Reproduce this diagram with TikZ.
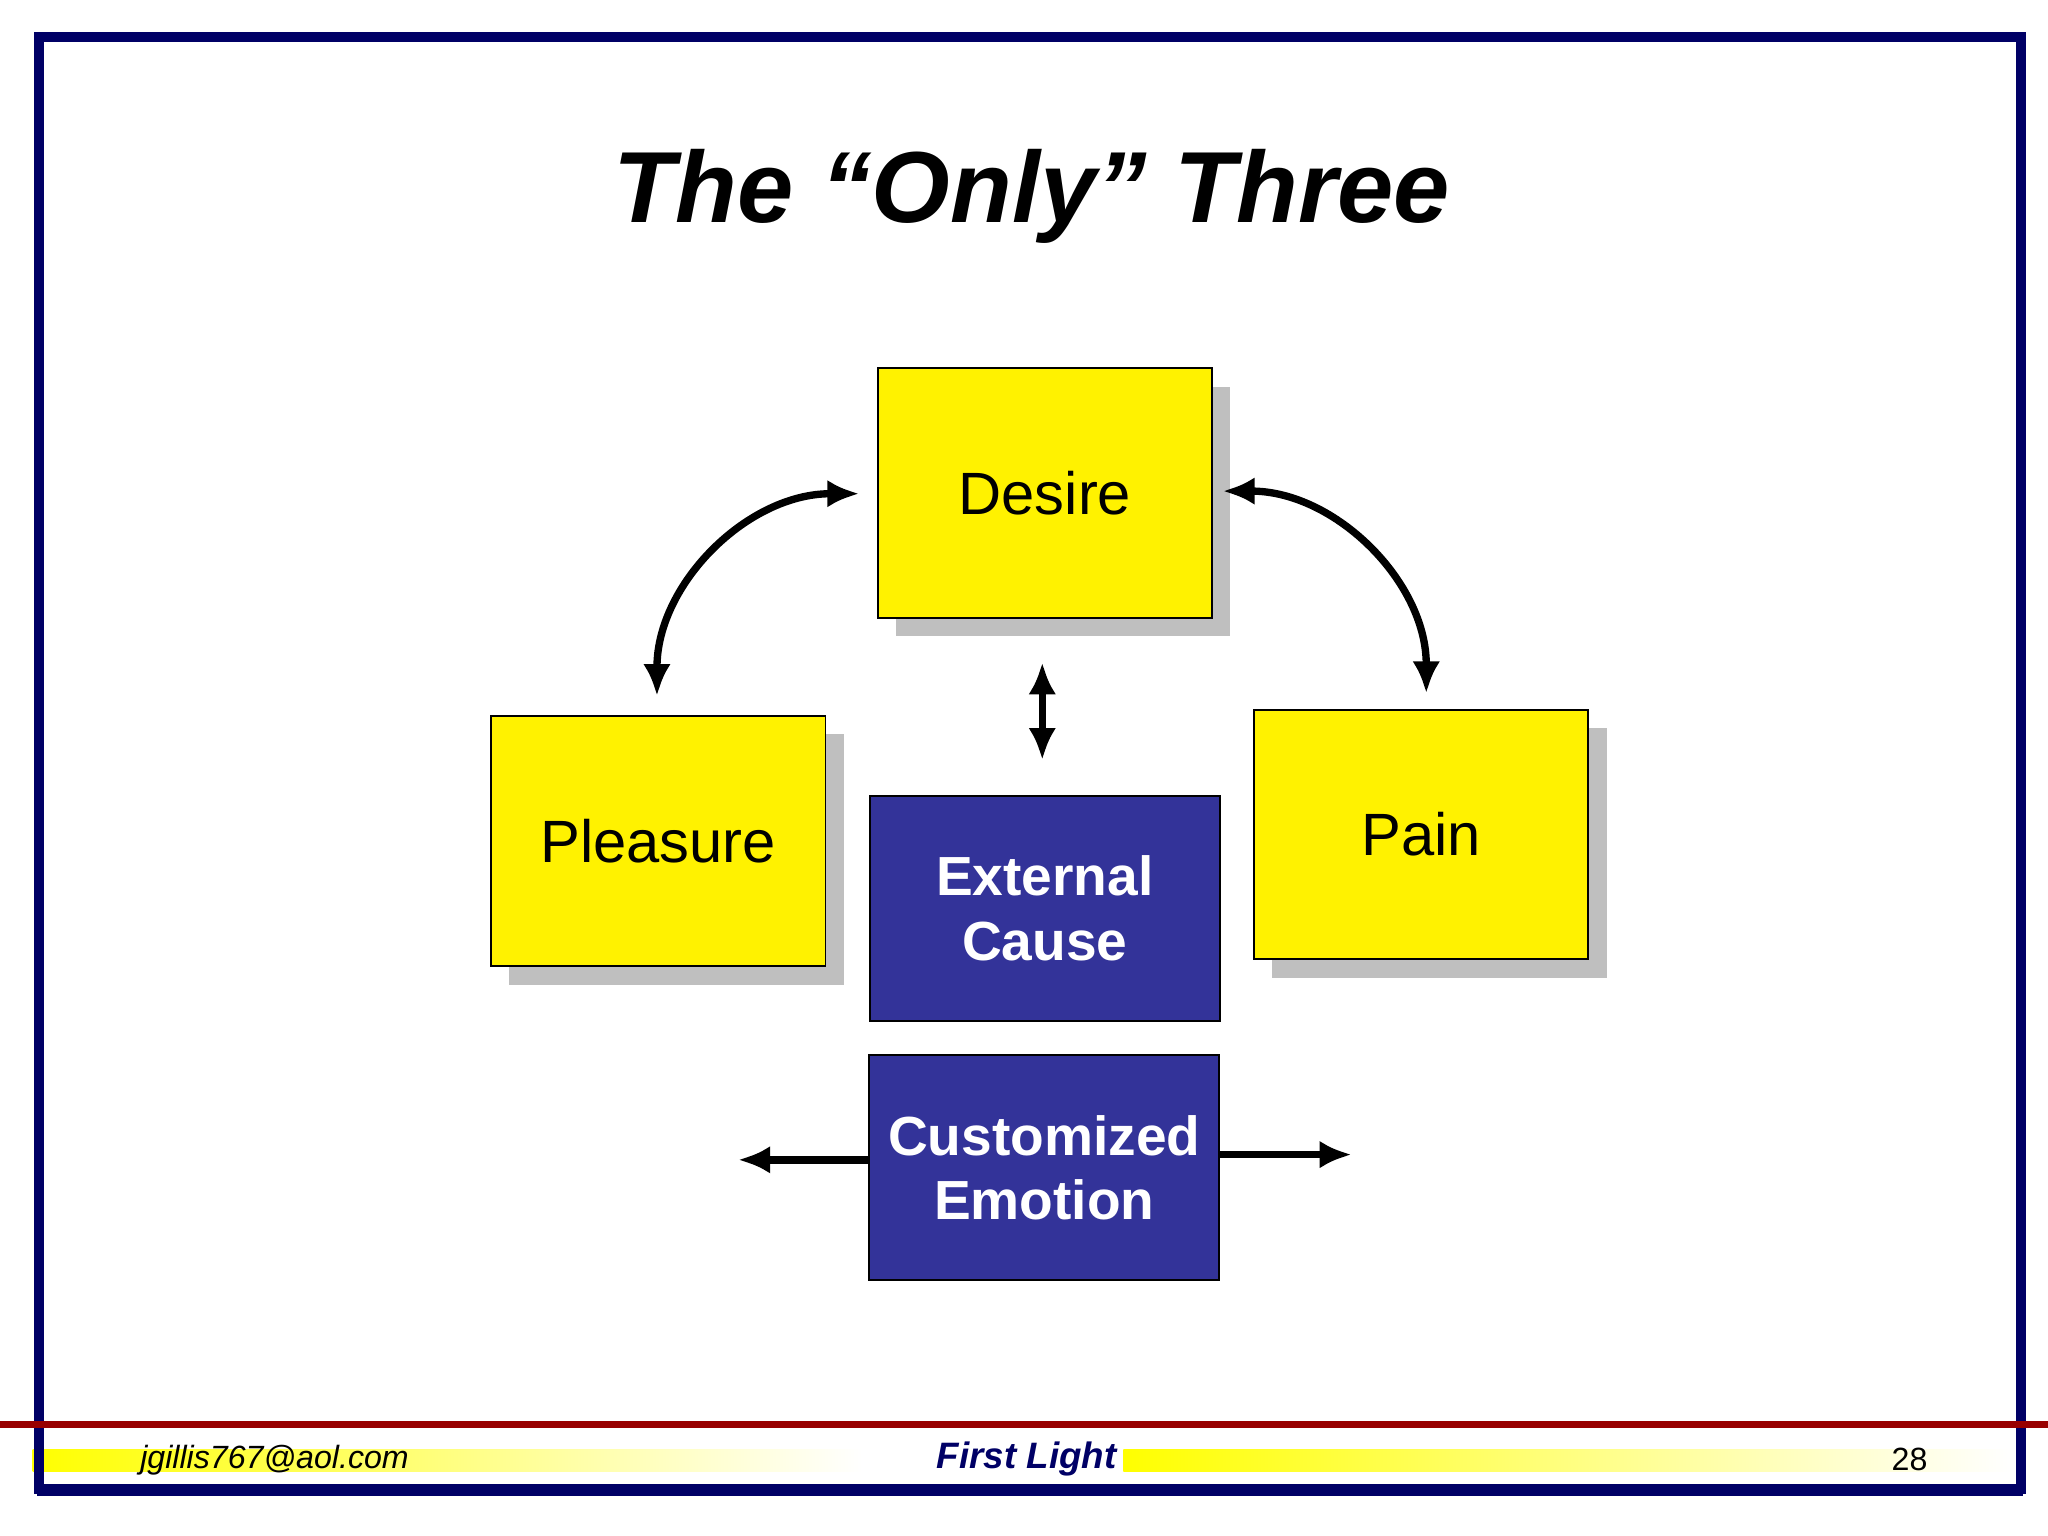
\documentclass[tikz,border=0pt]{standalone}
\usepackage{fontspec}
\setmainfont{Liberation Sans}
\usetikzlibrary{arrows.meta}
\definecolor{navy}{HTML}{000066}
\definecolor{boxblue}{HTML}{333399}
\definecolor{dred}{HTML}{990000}
\begin{document}
\begin{tikzpicture}[x=0.01cm,y=-0.01cm,
  ybox/.style={draw=black, fill=yellow, minimum width=2.56cm, minimum height=1.91cm,
    font=\fontsize{13}{15}\selectfont},
  bbox/.style={draw=black, fill=boxblue, text=white, minimum width=2.68cm, minimum height=1.72cm,
    align=center, font=\fontsize{12}{14}\selectfont\bfseries},
  shadow/.style={fill=black!25},
  arr/.style={line width=1.6pt, -{Latex[length=7pt,width=6pt]}},
  darr/.style={line width=1.6pt, {Latex[length=7pt,width=6pt]}-{Latex[length=7pt,width=6pt]}}]
\useasboundingbox (0,0) rectangle (1568,1176);
\fill[white] (0,0) rectangle (1568,1176);
% footer bars
\shade[left color=yellow, right color=white] (25,1110) rectangle (660,1127);
\shade[left color=yellow, right color=white] (860,1110) rectangle (1540,1127);
\draw[navy, line width=2.2pt] (30,28) rectangle (1547,1140);
\fill[navy] (28,1138) rectangle (1549,1145);
\fill[dred] (0,1088) rectangle (1568,1093);
\node[anchor=west, font=\fontsize{7}{8}\selectfont\itshape] (mail) at (95,1118) {jgillis767@aol.com};
\node[font=\fontsize{8}{9}\selectfont\bfseries\itshape, text=navy] (brand) at (786,1117) {First Light};
\node[font=\fontsize{7}{8}\selectfont] (page) at (1462,1117) {28};
% title
\node[font=\fontsize{22}{26}\selectfont\bfseries\itshape] (title) at (790,150) {The “Only” Three};
% shadows
\fill[shadow] (686,296) rectangle (942,487);
\fill[shadow] (390,562) rectangle (646,754);
\fill[shadow] (974,557) rectangle (1230,749);
% boxes
\node[ybox] (desire) at (800,377.5) {Desire};
\node[ybox] (pleasure) at (504,644) {Pleasure};
\node[ybox] (pain) at (1088,639) {Pain};
\node[bbox] (cause) at (800,695.5) {External\\Cause};
\node[bbox] (emotion) at (799.5,894) {Customized\\Emotion};
% connector ends
\coordinate (dl) at (658,378);
\coordinate (pl) at (503,533);
\coordinate (dr) at (936,376);
\coordinate (pr) at (1092,531);
\coordinate (vt) at (798,507);
\coordinate (vb) at (798,582);
\coordinate (el) at (565,888);
\coordinate (er) at (1035,884);
\draw[darr] (pl) to[out=-90+180, in=180, looseness=1] (dl);
\draw[darr] (dr) to[out=0, in=90, looseness=1] (pr);
\draw[darr] (vt) -- (vb);
\draw[arr] (emotion.west |- el) -- (el);
\draw[arr] (emotion.east |- er) -- (er);
\end{tikzpicture}
\end{document}
